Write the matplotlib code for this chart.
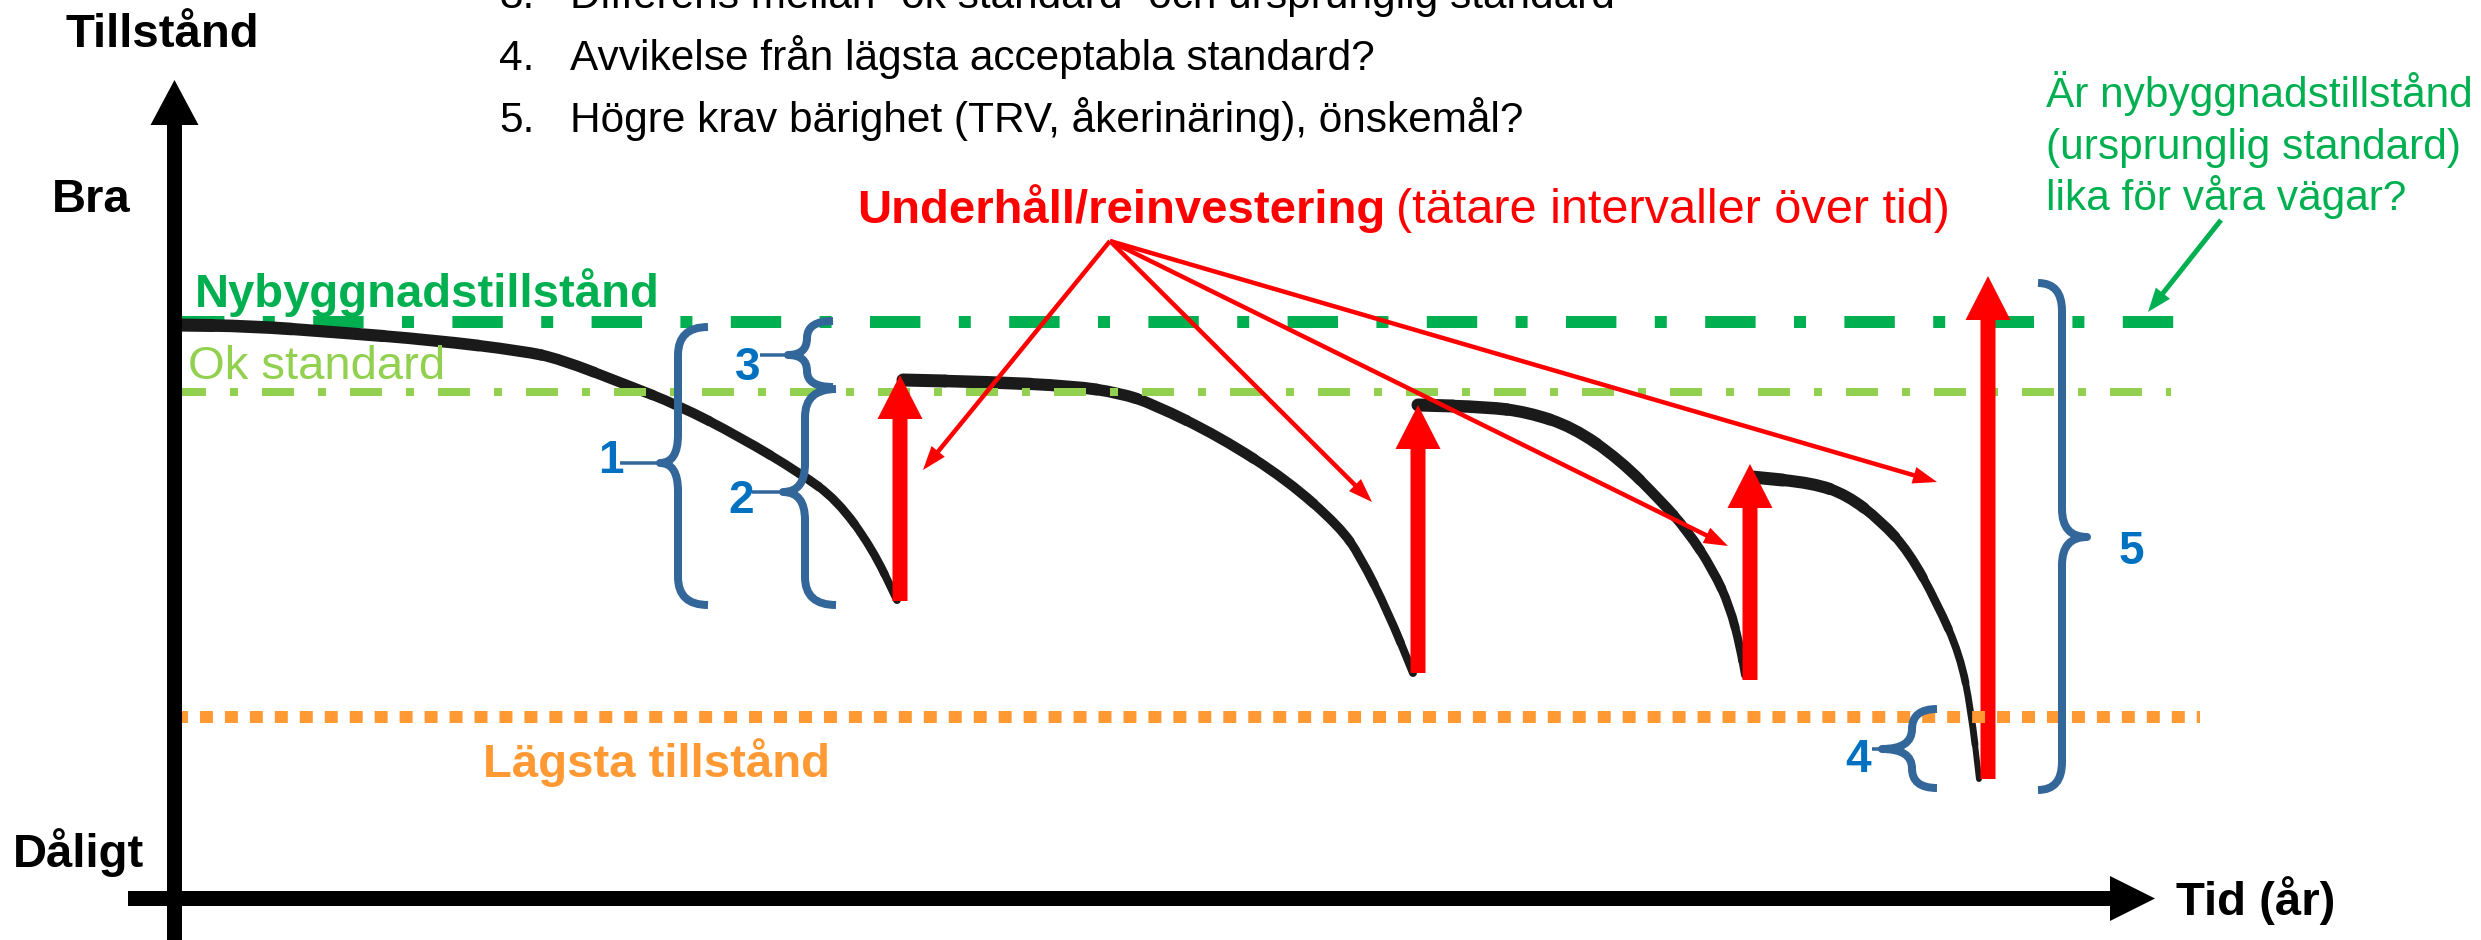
import numpy as np
import matplotlib.pyplot as plt
from matplotlib.patches import FancyArrow, PathPatch
from matplotlib.path import Path

plt.rcParams['font.family'] = ['Liberation Sans', 'DejaVu Sans']

# koordinater i bildens pixlar (x = tid, y = tillstånd nedåt)
niva_ny = 322
niva_ok = 392
niva_lagst = 717

kurva1_x = [175, 250, 333, 433, 523, 560, 627, 678, 740, 800, 837, 872, 897]
kurva1_y = [325, 326, 332, 340, 351, 359, 385, 405, 437, 473, 500, 548, 600]
kurva2_x = [903, 987, 1073, 1120, 1153, 1220, 1287, 1340, 1360, 1388, 1413]
kurva2_y = [380, 382, 386, 393, 404, 437, 480, 527, 556, 612, 673]
kurva3_x = [1418, 1487, 1527, 1573, 1620, 1660, 1687, 1713, 1730, 1740, 1745]
kurva3_y = [405, 407, 412, 427, 460, 500, 530, 570, 607, 647, 675]
kurva4_x = [1752, 1813, 1847, 1881, 1909, 1937, 1960, 1971, 1979]
kurva4_y = [477, 483, 495, 521, 552, 603, 655, 710, 779]

atgard_x = [900, 1418, 1750, 1988]
atgard_fran = [601, 673, 680, 779]
atgard_till = [375, 405, 464, 276]

pekare_start = (1110, 241)
pekare_x = [923, 1372, 1728, 1937]
pekare_y = [470, 502, 546, 482]

lista = ['3.', '4.', '5.']
lista_text = ['Differens mellan \u201dok standard\u201d och ursprunglig standard',
              'Avvikelse från lägsta acceptabla standard?',
              'Högre krav bärighet (TRV, åkerinäring), önskemål?']
fraga = ['Är nybyggnadstillstånd', '(ursprunglig standard)', 'lika för våra vägar?']

# klammer: (x lodrät, y topp, y botten, y spets, x ände, spetslängd, x etikett-pekare, etikett)
klamrar = [(678, 327, 605, 463, 708, 18, 620, '1'),
           (807, 321, 387, 355, 833, 19, 760, '3'),
           (805, 389, 605, 492, 836, 22, 752, '2'),
           (1912, 709, 788, 749, 1937, 30, 1872, '4'),
           (2062, 283, 790, 537, 2038, 25, 2089, '5')]
etikett_pos = {'1': (611, 473), '3': (748, 380), '2': (741, 513), '4': (1858, 772), '5': (2131, 564)}

PT = 0.72  # pixel -> punkt vid dpi 100

fig = plt.figure(figsize=(24.81, 9.40), dpi=100)
ax = fig.add_axes([0, 0, 1, 1])
ax.set_xlim(0, 2481)
ax.set_ylim(940, 0)
ax.axis('off')

# axlar
ax.add_patch(FancyArrow(174.5, 940, 0, 80 - 940, width=15, head_width=48, head_length=45,
                        length_includes_head=True, color='black', lw=0, zorder=9))
ax.add_patch(FancyArrow(128, 898.5, 2155 - 128, 0, width=15, head_width=45, head_length=45,
                        length_includes_head=True, color='black', lw=0, zorder=9))

# nivålinjer
ax.plot([174, 2178], [niva_ny, niva_ny], color='#00B050', lw=12 * PT,
        dashes=(4.2, 3.2, 1, 3.2), dash_capstyle='butt', zorder=2)
ax.plot([174, 2171], [niva_ok, niva_ok], color='#92D050', lw=8 * PT,
        dashes=(4, 3, 1, 3), dash_capstyle='butt', zorder=4)
ax.plot([175, 2200], [niva_lagst, niva_lagst], color='#FF9933', lw=12 * PT,
        dashes=(1.08, 1.0), dash_capstyle='butt', zorder=6)


def kurva(xs, ys, w0=13, w1=8):
    # mjuk kurva: avlästa punkter som styrpunkter, bredden avtar längs kurvan
    p = np.column_stack([xs, ys]).astype(float)
    m = (p[:-1] + p[1:]) / 2
    bitar = [Path([p[0], m[0]], [Path.MOVETO, Path.LINETO])]
    for i in range(1, len(p) - 1):
        bitar.append(Path([m[i - 1], p[i], m[i]], [Path.MOVETO, Path.CURVE3, Path.CURVE3]))
    bitar.append(Path([m[-1], p[-1]], [Path.MOVETO, Path.LINETO]))
    for w, bit in zip(np.linspace(w0, w1, len(bitar)), bitar):
        ax.add_patch(PathPatch(bit, fill=False, edgecolor='#1A1A1A', lw=w * PT,
                               capstyle='round', zorder=3))


kurva(kurva1_x, kurva1_y)
kurva(kurva2_x, kurva2_y)
kurva(kurva3_x, kurva3_y)
kurva(kurva4_x, kurva4_y, 13, 6)

# underhåll/reinvestering
for x, y0, y1 in zip(atgard_x, atgard_fran, atgard_till):
    ax.add_patch(FancyArrow(x, y0, 0, y1 - y0, width=15, head_width=45, head_length=44,
                            length_includes_head=True, color='#FF0000', lw=0, zorder=5))

for x, y in zip(pekare_x, pekare_y):
    ax.add_patch(FancyArrow(pekare_start[0], pekare_start[1], x - pekare_start[0], y - pekare_start[1],
                            width=4.5, head_width=17, head_length=24, length_includes_head=True,
                            color='#FF0000', lw=0, zorder=5))

ax.add_patch(FancyArrow(2221, 220, 2148 - 2221, 312 - 220, width=5, head_width=18, head_length=24,
                        length_includes_head=True, color='#00B050', lw=0, zorder=5))

# klamrar
for xv, y0, y1, yt, xe, d, xp, namn in klamrar:
    s = 1 if xe > xv else -1
    r0 = min(28, (yt - y0) / 2)
    r1 = min(28, (y1 - yt) / 2)
    verts = [(xe, y0), (xv, y0), (xv, y0 + r0), (xv, yt - r0), (xv, yt), (xv - s * d, yt),
             (xv, yt), (xv, yt + r1), (xv, y1 - r1), (xv, y1), (xe, y1)]
    codes = [Path.MOVETO, Path.CURVE3, Path.CURVE3, Path.LINETO, Path.CURVE3, Path.CURVE3,
             Path.CURVE3, Path.CURVE3, Path.LINETO, Path.CURVE3, Path.CURVE3]
    ax.add_patch(PathPatch(Path(verts, codes), fill=False, edgecolor='#336699', lw=8 * PT,
                           capstyle='butt', joinstyle='round', zorder=7))
    ax.plot([xv - s * d, xp], [yt, yt], color='#336699', lw=3.5 * PT, solid_capstyle='butt', zorder=7)
    ex, ey = etikett_pos[namn]
    ax.text(ex, ey, namn, color='#0070C0', fontsize=33, fontweight='bold', ha='center',
            va='baseline', zorder=8)

# texter
fet = dict(fontsize=34, fontweight='bold', ha='left', va='baseline', zorder=8)
ax.text(65, 47, 'Tillstånd', color='black', **fet)
ax.text(52, 212, 'Bra', color='black', **fet)
ax.text(13, 867, 'Dåligt', color='black', **fet)
ax.text(2176, 915, 'Tid (år)', color='black', **fet)
ax.text(195, 307, 'Nybyggnadstillstånd', color='#00B050', **fet)
ax.text(483, 777, 'Lägsta tillstånd', color='#FF9933', **fet)
ax.text(857, 223, 'Underhåll/reinvestering', color='#FF0000', **fet)
ax.text(188, 379, 'Ok standard', color='#92D050', fontsize=34, ha='left', va='baseline', zorder=8)
ax.text(1396, 223, '(tätare intervaller över tid)', color='#FF0000', fontsize=35,
        ha='left', va='baseline', zorder=8)

for i, (nr, txt) in enumerate(zip(lista, lista_text)):
    yb = 8 + 62 * i
    ax.text(499, yb, nr, color='black', fontsize=30.5, ha='left', va='baseline')
    ax.text(570, yb, txt, color='black', fontsize=30.5, ha='left', va='baseline')

for i, rad in enumerate(fraga):
    ax.text(2046, 107 + 51.5 * i, rad, color='#00B050', fontsize=30.5, ha='left', va='baseline')

fig.savefig('out.png', dpi=100)
